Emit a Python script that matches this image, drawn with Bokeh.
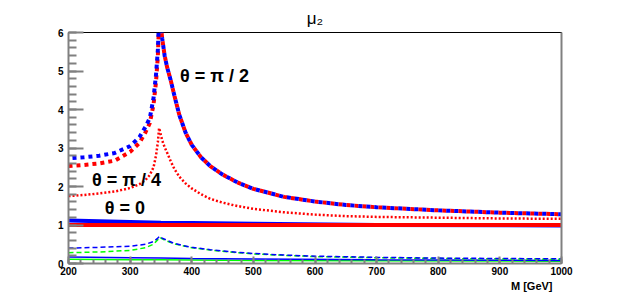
from bokeh.plotting import figure
from bokeh.models import Label, LinearAxis, SingleIntervalTicker, FixedTicker, Range1d, Title
from bokeh.embed import file_html
from bokeh.resources import INLINE

# ---------------- data ----------------
M_main = [200, 225, 250, 275, 300, 315, 325, 332, 338, 342, 345, 347, 349, 352, 356, 360,
          366, 372, 380, 390, 400, 415, 430, 450, 475, 500, 550, 600, 650, 700, 800, 900, 1000]
blue_pi2 = [2.73, 2.76, 2.80, 2.87, 3.05, 3.28, 3.55, 3.78, 4.30, 4.90, 5.55, 6.40, 6.30, 5.85, 5.40, 5.10,
            4.75, 4.35, 3.85, 3.40, 3.08, 2.76, 2.53, 2.31, 2.10, 1.94, 1.73, 1.61, 1.52, 1.46, 1.38, 1.32, 1.28]
red_pi2 = [2.53, 2.56, 2.60, 2.67, 2.90, 3.13, 3.41, 3.65, 4.13, 4.72, 5.38, 6.30, 6.30, 5.85, 5.40, 5.10,
           4.75, 4.35, 3.85, 3.40, 3.08, 2.76, 2.53, 2.31, 2.10, 1.94, 1.73, 1.61, 1.52, 1.46, 1.38, 1.32, 1.28]
red_pi4 = [1.75, 1.78, 1.82, 1.87, 1.96, 2.06, 2.17, 2.30, 2.50, 2.80, 3.15, 3.52, 3.40, 3.20, 3.02, 2.88,
           2.65, 2.45, 2.25, 2.08, 1.95, 1.80, 1.68, 1.58, 1.49, 1.42, 1.33, 1.27, 1.23, 1.21, 1.19, 1.17, 1.16]

M_flat = [200, 300, 350, 400, 500, 700, 1000]
blue_0 = [1.12, 1.08, 1.06, 1.05, 1.03, 1.00, 0.99]
red_0 = [1.00, 1.00, 1.00, 1.00, 1.00, 1.00, 1.00]
blue_thin = [0.17, 0.15, 0.14, 0.13, 0.12, 0.10, 0.08]
green_thin = [0.11, 0.10, 0.095, 0.09, 0.08, 0.07, 0.06]

M_low = [200, 250, 300, 325, 338, 345, 348, 352, 360, 370, 385, 400, 430, 460, 500, 550, 600, 700, 800, 900, 1000]
blue_dash = [0.40, 0.42, 0.45, 0.50, 0.57, 0.66, 0.71, 0.66, 0.60, 0.53, 0.47, 0.42, 0.36, 0.31, 0.26, 0.22,
             0.19, 0.16, 0.14, 0.13, 0.12]
green_dash = [0.28, 0.30, 0.34, 0.41, 0.50, 0.62, 0.68, 0.64, 0.58, 0.52, 0.46, 0.41, 0.35, 0.30, 0.25, 0.21,
              0.18, 0.15, 0.13, 0.12, 0.11]

x_ticks_interval = 100
y_ticks_interval = 1

FONT = "Liberation Sans"
GRAY = "#808080"

p = figure(width=630, height=296, output_backend="svg", toolbar_location=None,
           x_range=Range1d(200, 1000), y_range=Range1d(0, 6),
           min_border_left=68, min_border_right=69, min_border_top=32, min_border_bottom=33)
p.background_fill_color = "white"
p.border_fill_color = "white"
p.outline_line_color = "black"
p.outline_line_width = 1
p.xgrid.visible = False
p.ygrid.visible = False

p.title.text = "μ₂"
p.title.align = "center"
p.title.text_font = FONT
p.title.text_font_style = "normal"
p.title.text_font_size = "17px"
p.title.text_color = "black"
p.title.offset = 3

p.add_layout(Title(text="M [GeV]", align="right", text_font=FONT, text_font_style="bold",
                   text_font_size="11px", text_color="black", offset=9, standoff=0), "below")

p.xaxis.ticker = SingleIntervalTicker(interval=x_ticks_interval, num_minor_ticks=5)
p.yaxis.ticker = SingleIntervalTicker(interval=y_ticks_interval, num_minor_ticks=5)
for ax in (p.xaxis[0], p.yaxis[0]):
    ax.axis_line_color = GRAY
    ax.axis_line_width = 2
    ax.major_tick_line_color = GRAY
    ax.minor_tick_line_color = GRAY
    ax.major_tick_line_width = 2
    ax.minor_tick_line_width = 2
    ax.major_tick_out = 0
    ax.minor_tick_out = 0
    ax.major_label_text_font = FONT
    ax.major_label_text_font_style = "bold"
    ax.major_label_text_font_size = "10px"
    ax.major_label_text_color = "black"
p.xaxis.major_tick_in = 7
p.xaxis.minor_tick_in = 4
p.xaxis.major_label_standoff = 3
p.yaxis.major_tick_in = 15
p.yaxis.minor_tick_in = 8
p.yaxis.major_label_standoff = 5

right = LinearAxis(ticker=FixedTicker(ticks=[]), axis_line_color=GRAY, axis_line_width=2,
                   major_tick_line_color=None, minor_tick_line_color=None,
                   major_label_text_alpha=0)
p.add_layout(right, "right")

# low curves
p.line(M_flat, green_thin, line_color="#00ff00", line_width=1.5)
p.line(M_flat, blue_thin, line_color="#0000ff", line_width=1.5)
p.line(M_low, green_dash, line_color="#00ff00", line_width=1.5, line_dash="5 3")
p.line(M_low, blue_dash, line_color="#0000ff", line_width=1.5, line_dash="5 3")

# theta = 0
p.line(M_flat, blue_0, line_color="#0000ff", line_width=4)
p.line(M_flat, red_0, line_color="#ff0000", line_width=4)

# theta = pi/4
p.line(M_main, red_pi4, line_color="#ff0000", line_width=2.5, line_dash="2 2")

# theta = pi/2
p.line(M_main, red_pi2, line_color="#ff0000", line_width=4, line_dash="4 4")
p.line(M_main, blue_pi2, line_color="#0000ff", line_width=4, line_dash="4 4", line_dash_offset=4)

def lab(x, y, t, size, style="bold", align="left", baseline="middle"):
    p.add_layout(Label(x=x, y=y, text=t, text_font=FONT, text_font_size=size,
                       text_font_style=style, text_align=align, text_baseline=baseline,
                       text_color="black"))

lab(381, 4.88, "θ = π / 2", "18px")
lab(238, 2.16, "θ = π / 4", "18px")
lab(259, 1.43, "θ = 0", "18px")

open("out.html", "w").write(file_html(p, INLINE))
